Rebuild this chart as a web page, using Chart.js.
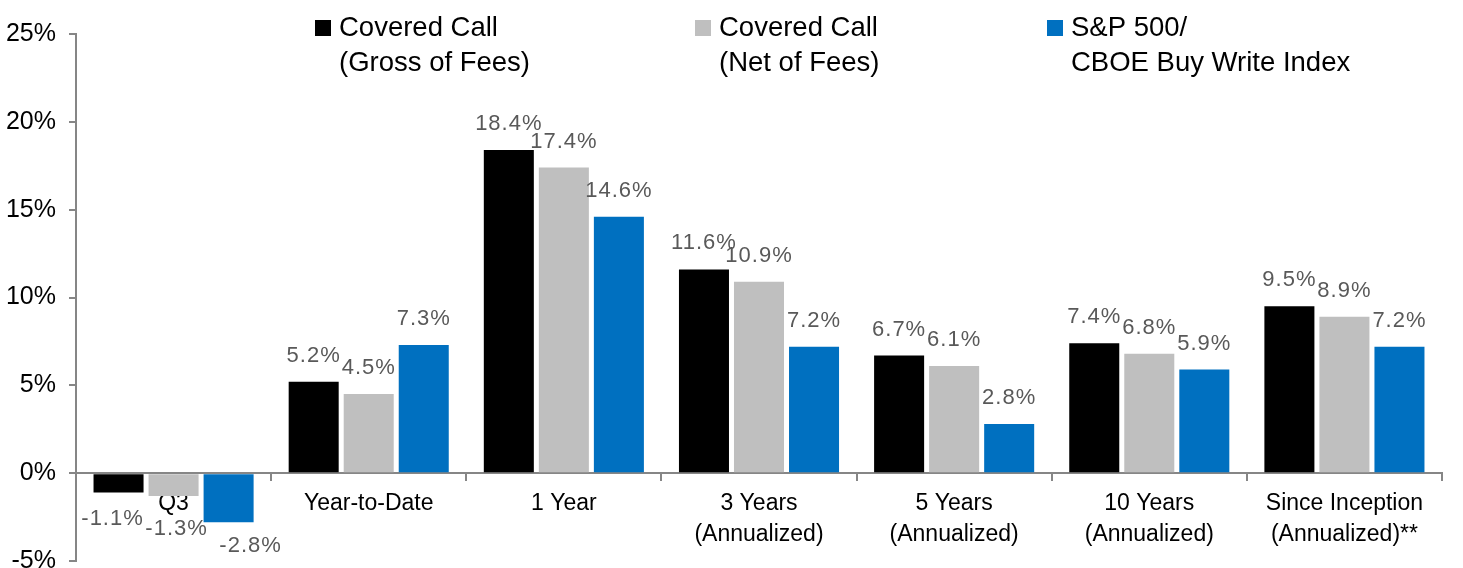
<!DOCTYPE html>
<html>
<head>
<meta charset="utf-8">
<script src="https://cdn.jsdelivr.net/npm/chart.js@4/dist/chart.umd.min.js"></script>
<style>
  body { margin: 0; background: #fff; }
  #wrap { width: 1463px; height: 568px; }
</style>
</head>
<body>
<div id="wrap"><canvas id="perfChart" width="1463" height="568"></canvas></div>
<script>
// chart data
const categories = [
    'Q3',
    'Year-to-Date',
    '1 Year',
    ['3 Years', '(Annualized)'],
    ['5 Years', '(Annualized)'],
    ['10 Years', '(Annualized)'],
    ['Since Inception', '(Annualized)**']
];
const grossOfFees = [-1.1, 5.2, 18.4, 11.6, 6.7, 7.4, 9.5];
const netOfFees = [-1.3, 4.5, 17.4, 10.9, 6.1, 6.8, 8.9];
const buyWriteIndex = [-2.8, 7.3, 14.6, 7.2, 2.8, 5.9, 7.2];
const seriesNames = [
    ['Covered Call', '(Gross of Fees)'],
    ['Covered Call', '(Net of Fees)'],
    ['S&P 500/', 'CBOE Buy Write Index']
];
const yTicks = [-5, 0, 5, 10, 15, 20, 25];

const colors = ['#000000', '#BFBFBF', '#0070C0'];
const axisGray = '#868686';
const fontFamily = '"Liberation Sans", Arial, sans-serif';

// value labels above / below each bar
// labels under negative bars are nudged per series so they don't collide
const negNudge = [{ dx: -6, dy: 26 }, { dx: 3, dy: 33 }, { dx: 22, dy: 24 }];
const valueLabels = {
    id: 'valueLabels',
    afterDatasetsDraw(chart) {
        const ctx = chart.ctx;
        ctx.save();
        ctx.font = '22px ' + fontFamily;
        ctx.fillStyle = '#595959';
        ctx.textAlign = 'center';
        ctx.textBaseline = 'middle';
        ctx.letterSpacing = '1px';
        chart.data.datasets.forEach((ds, i) => {
            const meta = chart.getDatasetMeta(i);
            meta.data.forEach((bar, j) => {
                const v = ds.data[j];
                let x = bar.x, y = bar.y - 26;
                if (v < 0) {
                    x += negNudge[i].dx;
                    y = bar.y + negNudge[i].dy;
                }
                ctx.fillText(v.toFixed(1) + '%', x, y);
            });
        });
        ctx.restore();
    }
};

// legend drawn inside the plot, two lines per entry
const topLegend = {
    id: 'topLegend',
    afterDraw(chart) {
        const ctx = chart.ctx;
        const xs = [315, 695, 1047];
        ctx.save();
        ctx.font = '27.5px ' + fontFamily;
        ctx.textBaseline = 'alphabetic';
        seriesNames.forEach((lines, i) => {
            ctx.fillStyle = colors[i];
            ctx.fillRect(xs[i], 20, 16, 16);
            ctx.fillStyle = '#000';
            lines.forEach((t, k) => ctx.fillText(t, xs[i] + 24, 36 + k * 35));
        });
        ctx.restore();
    }
};

const ctx = document.getElementById('perfChart').getContext('2d');
new Chart(ctx, {
    type: 'bar',
    data: {
        labels: categories,
        datasets: [
            { label: 'Covered Call (Gross of Fees)', data: grossOfFees, backgroundColor: colors[0] },
            { label: 'Covered Call (Net of Fees)', data: netOfFees, backgroundColor: colors[1] },
            { label: 'S&P 500/CBOE Buy Write Index', data: buyWriteIndex, backgroundColor: colors[2] }
        ]
    },
    options: {
        responsive: false,
        animation: false,
        devicePixelRatio: 1,
        layout: { padding: { top: 34, bottom: 7, right: 21, left: 0 } },
        categoryPercentage: 0.846,
        barPercentage: 0.909,
        plugins: {
            legend: { display: false },
            tooltip: { enabled: false }
        },
        scales: {
            x: {
                position: { y: 0 },
                afterFit(scale) { scale.height = 0; },
                grid: {
                    drawOnChartArea: false,
                    tickLength: 7,
                    color: axisGray,
                    lineWidth: 2
                },
                border: { color: axisGray, width: 2 },
                ticks: {
                    color: '#000',
                    padding: 8,
                    maxRotation: 0,
                    autoSkip: false,
                    font: { family: fontFamily, size: 23, lineHeight: 1.35 }
                }
            },
            y: {
                min: yTicks[0],
                max: yTicks[yTicks.length - 1],
                afterFit(scale) {
                    scale.width = 76;
                    scale.paddingTop = 0;
                    scale.paddingBottom = 0;
                },
                afterBuildTicks(scale) { scale.ticks = yTicks.map(v => ({ value: v })); },
                grid: {
                    drawOnChartArea: false,
                    tickLength: 7,
                    color: axisGray,
                    lineWidth: 2
                },
                border: { color: axisGray, width: 2 },
                ticks: {
                    color: '#000',
                    padding: 13,
                    font: { family: fontFamily, size: 25 },
                    callback: v => v + '%'
                }
            }
        }
    },
    plugins: [valueLabels, topLegend]
});
</script>
</body>
</html>
